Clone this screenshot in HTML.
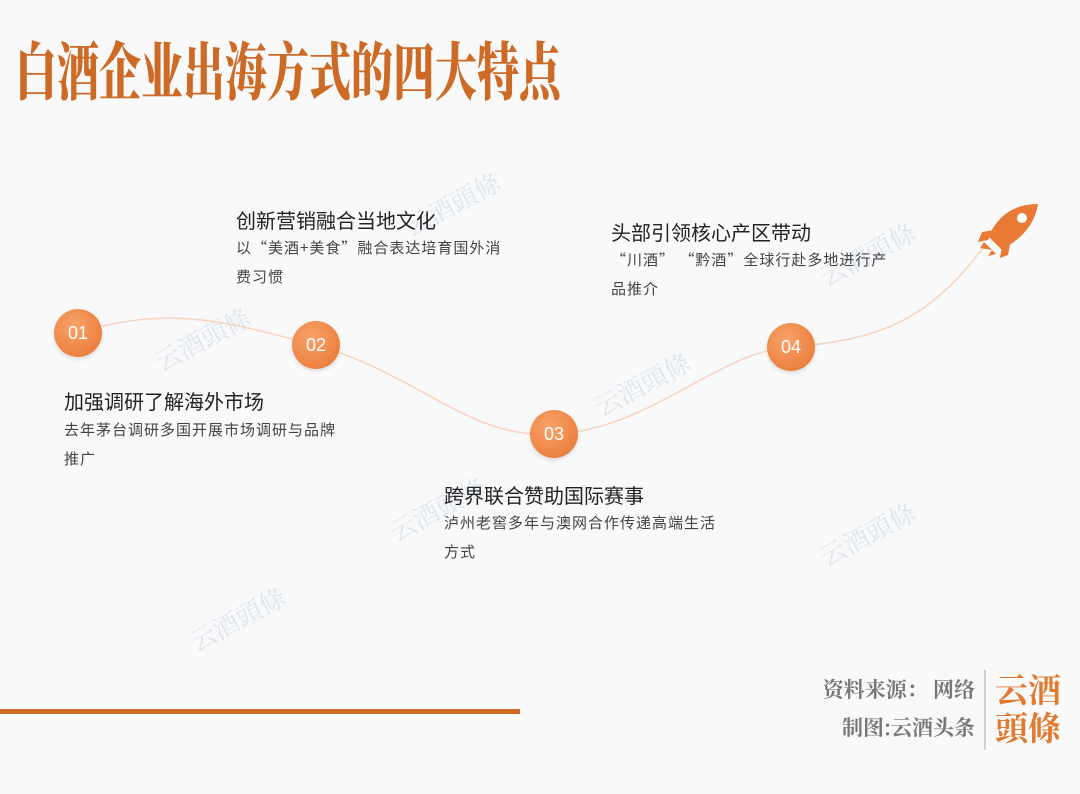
<!DOCTYPE html>
<html><head><meta charset="utf-8"><style>
body{margin:0;width:1080px;height:794px;background:#f9f9f9;position:relative;overflow:hidden;font-family:"Liberation Sans","Noto Sans CJK SC",sans-serif}
.t{position:absolute;left:15px;top:24px;font-family:"Liberation Serif","Noto Serif CJK SC",serif;font-weight:900;font-size:42px;color:#cc6a26;transform:scaleY(1.5);transform-origin:0 0;white-space:nowrap}
.h{position:absolute;font-size:20px;color:#222;white-space:nowrap}
.d{position:absolute;font-family:"Noto Sans CJK SC",sans-serif;font-size:15px;color:#444;line-height:29px;letter-spacing:1px}
.c{position:absolute;width:48px;height:48px;border-radius:50%;background:radial-gradient(circle at 40% 35%,#f7a36a,#e8732f);color:#fff;font-size:18px;text-align:center;line-height:48px;box-shadow:0 2px 4px rgba(0,0,0,.12)}
.wm{position:absolute;color:rgba(150,180,215,.28);font-family:"Noto Serif CJK SC",serif;font-size:26px;transform:rotate(-28deg);white-space:nowrap}
</style></head><body>
<div class="t">白酒企业出海方式的四大特点</div>
<div class="wm" style="left:400px;top:185px">云酒頭條</div>
<div class="wm" style="left:150px;top:320px">云酒頭條</div>
<div class="wm" style="left:590px;top:365px">云酒頭條</div>
<div class="wm" style="left:815px;top:235px">云酒頭條</div>
<div class="wm" style="left:385px;top:490px">云酒頭條</div>
<div class="wm" style="left:815px;top:515px">云酒頭條</div>
<div class="wm" style="left:185px;top:600px">云酒頭條</div>
<svg style="position:absolute;left:0;top:0" width="1080" height="794">
<path d="M78 333 C180 300 250 330 316 345 C420 375 470 440 554 434 C650 430 720 350 791 347 C880 340 930 320 985 245" fill="none" stroke="#f6d5c0" stroke-width="1.5"/>
<g transform="translate(978,200)" fill="#e87a35">
<path d="M60 4 C40 4 25 12 15 28 L10 36 L24 50 C40 40 56 28 60 4 Z"/>
<path d="M16 30 L4 32 L0 42 L10 40 Z"/>
<path d="M24 46 L22 58 L30 55 L32 44 Z"/>
<path d="M6 42 L2 48 L14 50 L10 56 L18 54 Z"/>
<circle cx="44" cy="18" r="5" fill="#fff"/>
</g>
<rect x="0" y="709" width="520" height="5" fill="#cc6a26"/>
<line x1="985" y1="670" x2="985" y2="750" stroke="#aaa" stroke-width="1"/>
</svg>
<div class="c" style="left:54px;top:309px">01</div>
<div class="c" style="left:292px;top:321px">02</div>
<div class="c" style="left:530px;top:410px">03</div>
<div class="c" style="left:767px;top:323px">04</div>
<div class="h" style="left:236px;top:205px">创新营销融合当地文化</div>
<div class="d" style="left:236px;top:233px;width:280px">以“美酒+美食”融合表达培育国外消费习惯</div>
<div class="h" style="left:64px;top:386px">加强调研了解海外市场</div>
<div class="d" style="left:64px;top:415px;width:285px">去年茅台调研多国开展市场调研与品牌推广</div>
<div class="h" style="left:444px;top:480px">跨界联合赞助国际赛事</div>
<div class="d" style="left:444px;top:508px;width:285px">泸州老窖多年与澳网合作传递高端生活方式</div>
<div class="h" style="left:611px;top:217px">头部引领核心产区带动</div>
<div class="d" style="left:611px;top:245px;width:285px">“川酒” “黔酒”全球行赴多地进行产品推介</div>
<div style="position:absolute;left:775px;top:670px;font-family:'Noto Serif CJK SC',serif;font-weight:700;font-size:21px;color:#777;line-height:38px;text-align:right;width:200px;white-space:nowrap">资料来源： 网络<br>制图:云酒头条</div>
<div style="position:absolute;left:995px;top:670px;font-family:'Noto Serif CJK SC',serif;font-weight:700;font-size:33px;color:#e07a30;line-height:38px">云酒<br>頭條</div>
</body></html>
